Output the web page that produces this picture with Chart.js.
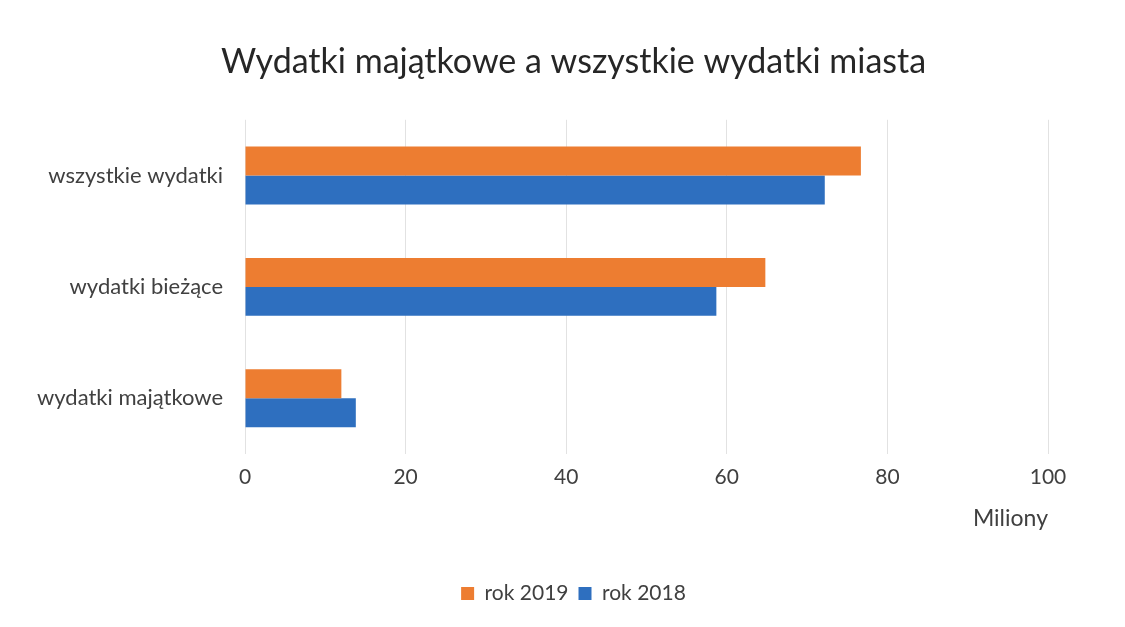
<!DOCTYPE html>
<html><head><meta charset="utf-8">
<script src="https://cdn.jsdelivr.net/npm/chart.js@4/dist/chart.umd.min.js"></script>
<style>html,body{margin:0;padding:0;background:#fff;}#wrap{width:1125px;height:627px;}</style>
</head><body><div id="wrap"><canvas id="c" width="1125" height="627"></canvas></div>
<script>
const categories = ["wszystkie wydatki", "wydatki bieżące", "wydatki majątkowe"];
const seriesNames = ["rok 2019", "rok 2018"];
const values2019 = [76.7, 64.8, 12.0];
const values2018 = [72.2, 58.7, 13.8];
const xTicks = [0, 20, 40, 60, 80, 100];
const titleText = "Wydatki majątkowe a wszystkie wydatki miasta";
const axisTitle = "Miliony";

const FONT = "Lato, 'Open Sans', sans-serif";
const TXT = "#404040";

new Chart(document.getElementById('c'), {
  type: 'bar',
  data: {
    labels: categories,
    datasets: [
      { label: seriesNames[0], data: values2019, backgroundColor: '#ED7D31', barPercentage: 1.0, categoryPercentage: 0.52 },
      { label: seriesNames[1], data: values2018, backgroundColor: '#2E6FBF', barPercentage: 1.0, categoryPercentage: 0.52 }
    ]
  },
  options: {
    indexAxis: 'y',
    responsive: false,
    animation: false,
    layout: { padding: { left: 22, right: 0, top: 0, bottom: 13 } },
    plugins: {
      title: { display: true, text: titleText, color: '#262626',
        font: { family: FONT, size: 34, weight: 'normal' }, padding: { top: 42, bottom: 37 } },
      legend: { position: 'bottom',
        labels: { color: TXT, font: { family: FONT, size: 21 }, boxWidth: 13, boxHeight: 13, padding: 10 } },
      tooltip: { enabled: false }
    },
    scales: {
      x: {
        min: 0, max: 100,
        afterBuildTicks: (s) => { s.ticks = xTicks.map(v => ({ value: v })); },
        afterFit: (s) => { s.height = 119; },
        grid: { color: '#e2e2e2', drawTicks: false },
        border: { display: false },
        ticks: { color: TXT, font: { family: FONT, size: 21 }, padding: 11 },
        title: { display: true, text: axisTitle, align: 'end', color: TXT,
          font: { family: FONT, size: 23 }, padding: { top: 8, bottom: 41 } }
      },
      y: {
        afterFit: (s) => { s.width = 223; },
        grid: { display: false, drawTicks: false },
        border: { display: false },
        ticks: { color: TXT, font: { family: FONT, size: 22 }, padding: 22 }
      },
      yRight: {
        type: 'category',
        position: 'right',
        afterFit: (s) => { s.width = 77; },
        grid: { display: false, drawTicks: false },
        border: { display: false },
        ticks: { display: false }
      }
    }
  }
});
</script></body></html>
